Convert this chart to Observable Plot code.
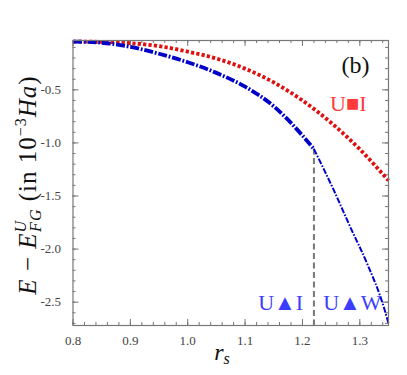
<!DOCTYPE html>
<html><head><meta charset="utf-8">
<script src="https://cdn.jsdelivr.net/npm/d3@7"></script>
<script src="https://cdn.jsdelivr.net/npm/@observablehq/plot@0.6"></script>
<style>body{margin:0;background:#fff}</style>
</head><body><div id="chart"></div>
<script>
// U■I (red dotted)
const redRs = [0.80, 0.85, 0.90, 0.95, 1.00, 1.05, 1.10, 1.15, 1.20, 1.25, 1.30, 1.35];
const redE  = [-0.045, -0.048, -0.06, -0.088, -0.14, -0.205, -0.30, -0.43, -0.60, -0.81, -1.06, -1.355];
// U▲I (blue dash-dot, thick)
const blueIRs = [0.80, 0.85, 0.90, 0.95, 1.00, 1.05, 1.10, 1.15, 1.20, 1.22];
const blueIE  = [-0.045, -0.056, -0.095, -0.16, -0.24, -0.34, -0.47, -0.655, -0.93, -1.057];
// U▲W (blue dash-dot, thin)
const blueWRs = [1.22, 1.255, 1.284, 1.313, 1.342, 1.35];
const blueWE  = [-1.057, -1.45, -1.80, -2.14, -2.55, -2.70];
// transition
const transitionRs = 1.22;
const transitionE = -1.057;
// ticks
const xMajor = [0.8, 0.9, 1.0, 1.1, 1.2, 1.3];
const yMajor = [-0.5, -1.0, -1.5, -2.0, -2.5];
const xMinor = d3.range(0.8, 1.351, 0.02);
const yMinor = d3.range(-2.7, -0.05, 0.1);

const red = redRs.map((x, i) => ({x, y: redE[i]}));
const blueI = blueIRs.map((x, i) => ({x, y: blueIE[i]}));
const blueW = blueWRs.map((x, i) => ({x, y: blueWE[i]}));

const W = 407, H = 375, mT = 40, mB = 50, mL = 72.5, mR = 19;
const pw = W - mL - mR, ph = H - mT - mB;
const font = "Liberation Serif";
const tickColor = "#777";

const svg = Plot.plot({
  width: W, height: H,
  marginTop: mT, marginBottom: mB, marginLeft: mL, marginRight: mR,
  style: {fontFamily: font, background: "#fff", color: "#444", fontSize: "13px"},
  x: {domain: [0.8, 1.35], ticks: xMajor, tickSize: 0, tickPadding: 10, tickFormat: d => d.toFixed(1), label: null},
  y: {domain: [-2.72, -0.035], ticks: yMajor, tickSize: 0, tickPadding: 12, tickFormat: d => d.toFixed(1), label: null},
  marks: [
    Plot.tickX(xMinor, {x: d => d, insetTop: ph - 3, stroke: tickColor}),
    Plot.tickX(xMinor, {x: d => d, insetBottom: ph - 3, stroke: tickColor}),
    Plot.tickX(xMajor, {x: d => d, insetTop: ph - 6, stroke: tickColor}),
    Plot.tickX(xMajor, {x: d => d, insetBottom: ph - 6, stroke: tickColor}),
    Plot.tickY(yMinor, {y: d => d, insetRight: pw - 3, stroke: tickColor}),
    Plot.tickY(yMinor, {y: d => d, insetLeft: pw - 3, stroke: tickColor}),
    Plot.tickY(yMajor, {y: d => d, insetRight: pw - 6, stroke: tickColor}),
    Plot.tickY(yMajor, {y: d => d, insetLeft: pw - 6, stroke: tickColor}),
    Plot.ruleX([transitionRs], {x: d => d, y1: transitionE, y2: -2.72, stroke: "#777", strokeWidth: 2, strokeDasharray: "6 3.5"}),
    Plot.line(red, {x: "x", y: "y", curve: "monotone-x", stroke: "#e01010", strokeWidth: 3.8, strokeLinecap: "butt", strokeDasharray: "3.2 2.2"}),
    Plot.line(blueI, {x: "x", y: "y", curve: "monotone-x", stroke: "#0000c8", strokeWidth: 3.8, strokeLinecap: "butt", strokeDasharray: "9 1.8 1.8 1.8"}),
    Plot.line(blueW, {x: "x", y: "y", curve: "monotone-x", stroke: "#0000c8", strokeWidth: 2, strokeLinecap: "butt", strokeDasharray: "6 1.6 1.6 1.6"}),
    Plot.text(["(b)"], {x: 1.2925, y: -0.27, text: d => d, fontSize: 24, fill: "#111"}),
    Plot.text(["U■I"], {x: 1.28, y: -0.63, text: d => d, fontSize: 22, fill: "#ff3a3a"}),
    Plot.text(["U▲I"], {x: 1.162, y: -2.505, text: d => d, fontSize: 22, fill: "#3c3cff"}),
    Plot.text(["U▲W"], {x: 1.287, y: -2.505, text: d => d, fontSize: 22, fill: "#3c3cff"}),
    Plot.frame({stroke: "#777", strokeWidth: 1.2})
  ]
});

const s = d3.select(svg);
s.selectAll("text").style("font-family", "Liberation Serif, serif");

const xl = s.append("text").attr("x", 222).attr("y", 360).attr("text-anchor", "middle")
  .style("font-family", "Liberation Serif, serif").style("font-size", "24px").attr("fill", "#111");
xl.append("tspan").style("font-style", "italic").text("r");
xl.append("tspan").style("font-style", "italic").style("font-size", "16px").attr("dy", 4).text("s");

const yl = s.append("text").attr("transform", "translate(36,185) rotate(-90)").attr("text-anchor", "middle")
  .style("font-family", "Liberation Serif, serif").style("font-size", "25px").style("letter-spacing", "1px").attr("fill", "#111");
yl.append("tspan").style("font-style", "italic").text("E");
yl.append("tspan").text(" − ");
yl.append("tspan").style("font-style", "italic").text("E");
yl.append("tspan").style("font-style", "italic").style("font-size", "16px").attr("dy", -10).text("U");
yl.append("tspan").style("font-style", "italic").style("font-size", "16px").attr("dx", -12).attr("dy", 15).text("FG");
yl.append("tspan").attr("dy", -5).text(" (in 10");
yl.append("tspan").style("font-size", "16px").attr("dy", -10).text("−3");
yl.append("tspan").style("font-style", "italic").attr("dy", 10).text("Ha");
yl.append("tspan").text(")");

document.getElementById("chart").append(svg);
</script>
</body></html>
